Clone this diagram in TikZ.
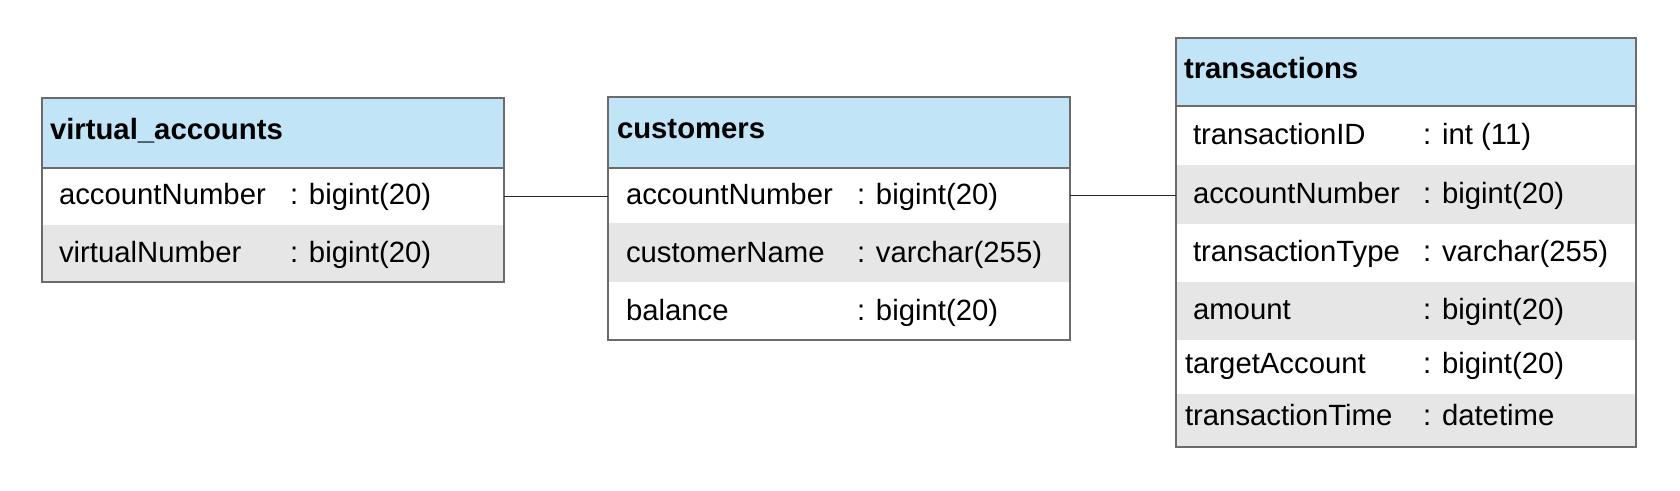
\documentclass[tikz,border=0pt]{standalone}
\usepackage{fontspec}
\setmainfont{Liberation Sans}
\begin{document}
\begin{tikzpicture}[x=1pt,y=-1pt,
  every node/.style={inner sep=0pt,outer sep=0pt},
  hdr/.style={fill=hdrblue,draw=bordergray,line width=2pt,anchor=north west},
  roww/.style={fill=white,anchor=north west},
  rowg/.style={fill=rowgray,anchor=north west},
  frame/.style={draw=bordergray,line width=2pt,anchor=north west},
  ttl/.style={anchor=base west,font=\fontsize{29.3}{34}\selectfont\bfseries},
  fld/.style={anchor=base west,font=\fontsize{29.3}{34}\selectfont},
  link/.style={draw=black!85,line width=1.5pt}]
\definecolor{hdrblue}{HTML}{C2E4F7}
\definecolor{rowgray}{HTML}{E6E6E6}
\definecolor{bordergray}{HTML}{6B6B6B}
\useasboundingbox (0,0) rectangle (1680,490);
\fill[white] (0,0) rectangle (1680,490);

% ---------- virtual_accounts ----------
\node[roww,minimum width=462pt,minimum height=57pt] (va-r1) at (42,168) {};
\node[rowg,minimum width=462pt,minimum height=57pt] (va-r2) at (42,225) {};
\node[hdr,minimum width=462pt,minimum height=70pt] (va-h) at (42,98) {};
\node[frame,minimum width=462pt,minimum height=184pt] (va) at (42,98) {};
\node[ttl] (va-t) at (50,139) {virtual\_accounts};
\node[fld] (va-f1) at (59,204) {accountNumber};
\node[fld] (va-y1) at (290,204) {: bigint(20)};
\node[fld] (va-f2) at (59,262) {virtualNumber};
\node[fld] (va-y2) at (290,262) {: bigint(20)};

% ---------- customers ----------
\node[roww,minimum width=462pt,minimum height=55pt] (cu-r1) at (608,168) {};
\node[rowg,minimum width=462pt,minimum height=59pt] (cu-r2) at (608,223) {};
\node[roww,minimum width=462pt,minimum height=58pt] (cu-r3) at (608,282) {};
\node[hdr,minimum width=462pt,minimum height=71pt] (cu-h) at (608,97) {};
\node[frame,minimum width=462pt,minimum height=243pt] (cu) at (608,97) {};
\node[ttl] (cu-t) at (617,138) {customers};
\node[fld] (cu-f1) at (626,204) {accountNumber};
\node[fld] (cu-y1) at (857,204) {: bigint(20)};
\node[fld] (cu-f2) at (626,262) {customerName};
\node[fld] (cu-y2) at (857,262) {: varchar(255)};
\node[fld] (cu-f3) at (626,320) {balance};
\node[fld] (cu-y3) at (857,320) {: bigint(20)};

% ---------- transactions ----------
\node[roww,minimum width=460pt,minimum height=59pt] (tr-r1) at (1176,106) {};
\node[rowg,minimum width=460pt,minimum height=59pt] (tr-r2) at (1176,165) {};
\node[roww,minimum width=460pt,minimum height=58pt] (tr-r3) at (1176,224) {};
\node[rowg,minimum width=460pt,minimum height=58pt] (tr-r4) at (1176,282) {};
\node[roww,minimum width=460pt,minimum height=54pt] (tr-r5) at (1176,340) {};
\node[rowg,minimum width=460pt,minimum height=53pt] (tr-r6) at (1176,394) {};
\node[hdr,minimum width=460pt,minimum height=68pt] (tr-h) at (1176,38) {};
\node[frame,minimum width=460pt,minimum height=409pt] (tr) at (1176,38) {};
\node[ttl] (tr-t) at (1184,78) {transactions};
\node[fld] (tr-f1) at (1193,144) {transactionID};
\node[fld] (tr-y1) at (1423,144) {: int (11)};
\node[fld] (tr-f2) at (1193,203) {accountNumber};
\node[fld] (tr-y2) at (1423,203) {: bigint(20)};
\node[fld] (tr-f3) at (1193,261) {transactionType};
\node[fld] (tr-y3) at (1423,261) {: varchar(255)};
\node[fld] (tr-f4) at (1193,319) {amount};
\node[fld] (tr-y4) at (1423,319) {: bigint(20)};
\node[fld] (tr-f5) at (1185,373) {targetAccount};
\node[fld] (tr-y5) at (1423,373) {: bigint(20)};
\node[fld] (tr-f6) at (1185,425) {transactionTime};
\node[fld] (tr-y6) at (1423,425) {: datetime};

% ---------- connectors ----------
\draw[link] (va-r1.east) -- (va-r1.east -| cu-r1.west);
\draw[link] (cu-r1.east) -- (cu-r1.east -| tr-r2.west);
\end{tikzpicture}
\end{document}
